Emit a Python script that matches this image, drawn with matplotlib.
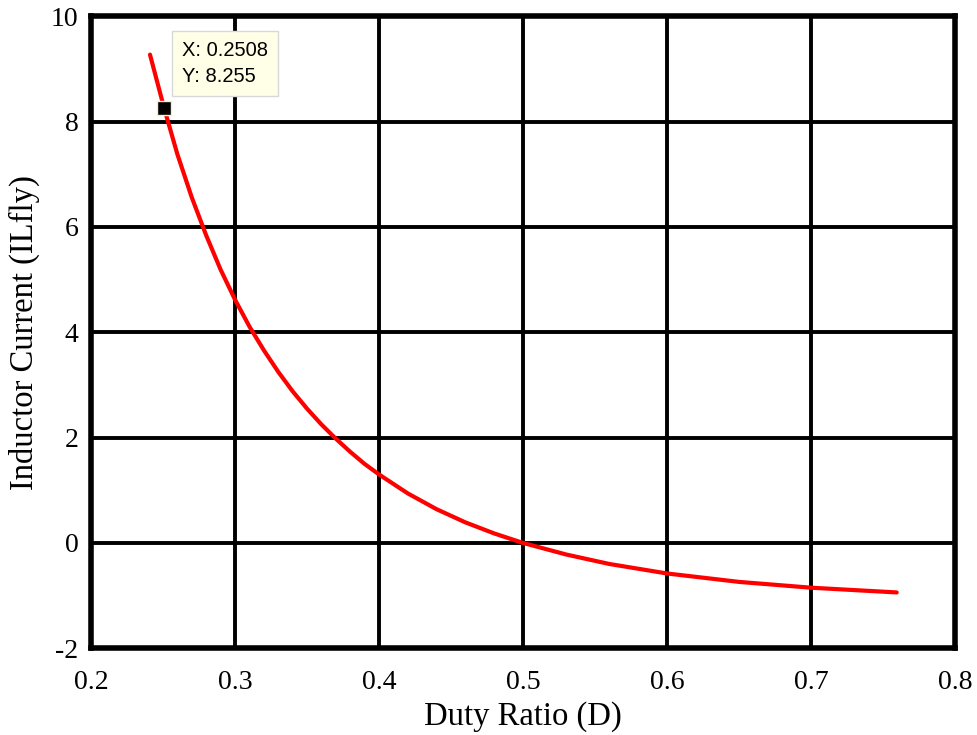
import matplotlib
matplotlib.use('Agg')
import matplotlib.pyplot as plt

plt.rcParams['font.family'] = ['Liberation Serif', 'DejaVu Serif']
plt.rcParams['axes.unicode_minus'] = False

# values
duty = [0.241, 0.2508, 0.26, 0.27, 0.28, 0.29, 0.30, 0.31, 0.32, 0.33, 0.34, 0.35,
        0.36, 0.37, 0.38, 0.39, 0.40, 0.42, 0.44, 0.46, 0.48, 0.50, 0.53, 0.56,
        0.60, 0.65, 0.70, 0.7595]
il_fly = [9.27, 8.255, 7.38, 6.56, 5.84, 5.19, 4.62, 4.11, 3.66, 3.25, 2.88, 2.55,
          2.25, 1.98, 1.73, 1.50, 1.30, 0.94, 0.64, 0.39, 0.18, 0.0, -0.22, -0.40,
          -0.58, -0.74, -0.85, -0.94]
tip_x, tip_y = 0.2508, 8.255
xticks = [0.2, 0.3, 0.4, 0.5, 0.6, 0.7, 0.8]
yticks = [-2, 0, 2, 4, 6, 8, 10]

fig = plt.figure(figsize=(9.77, 7.35), dpi=100)
ax = fig.add_axes([0.0931, 0.118, 0.8844, 0.860])
ax.plot(duty, il_fly, color='red', lw=3, solid_capstyle='round', zorder=3)
ax.plot([tip_x], [tip_y], marker='s', ms=10, color='black', mec='#f5f0c8', mew=1, zorder=4)
ax.annotate(f'X: {tip_x}\nY: {tip_y}', xy=(tip_x, tip_y), xytext=(0.263, 9.1),
            fontsize=14.5, family=['Liberation Sans', 'DejaVu Sans'], linespacing=1.45,
            va='center', ha='left',
            bbox=dict(boxstyle='square,pad=0.5', fc='#ffffe8', ec='#d8d8d8', lw=1), zorder=5)

ax.set_xlim(0.2, 0.8)
ax.set_ylim(-2, 10)
ax.set_xticks(xticks)
ax.set_yticks(yticks)
ax.set_xticklabels([f'{v:g}' for v in xticks])
ax.set_yticklabels([str(v) for v in yticks])
ax.grid(True, color='black', lw=2.8)
ax.set_axisbelow(True)
for s in ax.spines.values():
    s.set_linewidth(4)
ax.tick_params(length=0, labelsize=20)
ax.tick_params(axis='x', pad=16)
ax.tick_params(axis='y', pad=9)
ax.set_xlabel('Duty Ratio (D)', fontsize=23.5, labelpad=4)
ax.set_ylabel('Inductor Current (ILfly)', fontsize=23.5, labelpad=8)
plt.savefig('out.png', dpi=100)
